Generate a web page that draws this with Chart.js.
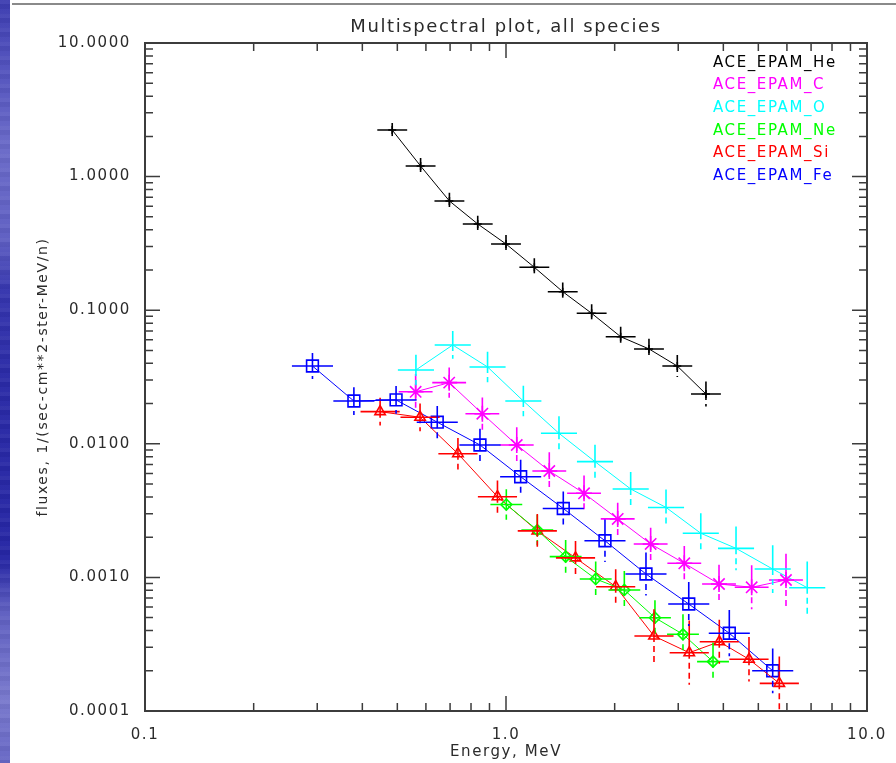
<!DOCTYPE html>
<html>
<head>
<meta charset="utf-8">
<script src="https://cdn.jsdelivr.net/npm/chart.js@4.4.1/dist/chart.umd.min.js"></script>
<style>
  html, body { margin: 0; padding: 0; background: #fff; }
  #wrap { position: relative; width: 896px; height: 763px; overflow: hidden; background: #fff; }
  #stripe {
    position: absolute; left: 0; top: 0; width: 10px; height: 763px;
    background:
      repeating-linear-gradient(180deg, rgba(255,255,255,0.05) 0 4px, rgba(0,0,0,0.03) 4px 9px, rgba(255,255,255,0.02) 9px 14px),
      linear-gradient(180deg, #3c3cb0 0px, #5050bc 60px, #6a6ac8 150px, #5e5ec2 240px, #3636ae 290px, #2a2aa6 380px, #2626a4 560px, #5e5ec0 610px, #7878cc 700px, #6666c4 763px);
  }
  #rule { position: absolute; left: 12px; right: 0; top: 3px; height: 2px; background: #8a8a8a; }
  canvas { position: absolute; left: 0; top: 0; }
</style>
</head>
<body>
<div id="wrap">
  <div id="stripe"></div>
  <div id="rule"></div>
  <canvas id="chart" width="896" height="763"></canvas>
</div>
<script>
// Species names, in legend order
const speciesLabels = ['ACE_EPAM_He', 'ACE_EPAM_C', 'ACE_EPAM_O', 'ACE_EPAM_Ne', 'ACE_EPAM_Si', 'ACE_EPAM_Fe'];

// Energy (MeV/n), flux and relative flux error for each species
const heEnergy = [0.484, 0.580, 0.697, 0.835, 1.00, 1.198, 1.436, 1.727, 2.078, 2.489, 2.982, 3.58];
const heFlux   = [2.23, 1.20, 0.657, 0.442, 0.313, 0.2095, 0.1376, 0.0948, 0.0633, 0.0513, 0.0382, 0.0236];
const heErr    = [0.13, 0.15, 0.15, 0.15, 0.17, 0.17, 0.17, 0.17, 0.19, 0.19, 0.21, 0.24];

const cEnergy = [0.562, 0.696, 0.860, 1.071, 1.318, 1.645, 2.039, 2.516, 3.118, 3.891, 4.792, 5.965];
const cFlux   = [0.0245, 0.0287, 0.0168, 0.0098, 0.00626, 0.00426, 0.00274, 0.00178, 0.001275, 0.000893, 0.000843, 0.000956];
const cErr    = [0.36, 0.30, 0.32, 0.36, 0.38, 0.36, 0.32, 0.32, 0.35, 0.39, 0.46, 0.57];

const oEnergy = [0.563, 0.712, 0.889, 1.117, 1.402, 1.764, 2.215, 2.775, 3.464, 4.337, 5.48, 6.83];
const oFlux   = [0.0357, 0.0549, 0.0376, 0.0209, 0.01198, 0.00735, 0.00459, 0.00334, 0.00214, 0.00165, 0.001155, 0.000837];
const oErr    = [0.30, 0.27, 0.30, 0.30, 0.34, 0.34, 0.34, 0.36, 0.41, 0.46, 0.51, 0.57];

const neEnergy = [1.002, 1.221, 1.463, 1.772, 2.127, 2.586, 3.092, 3.745];
const neFlux   = [0.00351, 0.00226, 0.00143, 0.000973, 0.000805, 0.000499, 0.000375, 0.000234];
const neErr    = [0.30, 0.30, 0.33, 0.35, 0.39, 0.35, 0.41, 0.39];

const siEnergy = [0.448, 0.578, 0.736, 0.947, 1.221, 1.558, 2.013, 2.570, 3.218, 3.898, 4.711, 5.716];
const siFlux   = [0.0174, 0.0158, 0.00843, 0.00402, 0.00223, 0.00140, 0.000852, 0.000364, 0.000273, 0.00033, 0.000244, 0.000161];
const siErr    = [0.27, 0.27, 0.31, 0.32, 0.34, 0.34, 0.35, 0.59, 0.74, 0.46, 0.47, 0.59];

const feEnergy = [0.291, 0.379, 0.496, 0.645, 0.847, 1.098, 1.441, 1.880, 2.442, 3.208, 4.155, 5.48];
const feFlux   = [0.0382, 0.0209, 0.0213, 0.01451, 0.0098, 0.00567, 0.00328, 0.00188, 0.00106, 0.000632, 0.000382, 0.000200];
const feErr    = [0.25, 0.27, 0.27, 0.32, 0.32, 0.34, 0.34, 0.44, 0.45, 0.46, 0.49, 0.47];

// Energy channel half-width, as a ratio to the channel centre (He, C, O, Ne, Si, Fe)
const binHalfWidth = [1.10, 1.114, 1.122, 1.107, 1.133, 1.14];

// Axis tick values and their labels
const xTickValues = [0.1, 1, 10];
const xTickLabels = ['0.1', '1.0', '10.0'];
const yTickValues = [0.0001, 0.001, 0.01, 0.1, 1, 10];
const yTickLabels = ['0.0001', '0.0010', '0.0100', '0.1000', '1.0000', '10.0000'];

// Plot styles per species
const seriesColors = ['#000000', '#ff00ff', '#00ffff', '#00ff00', '#ff0000', '#0000ff'];
const seriesSymbols = ['cross', 'star', 'circle', 'rectRot', 'triangle', 'rect'];
const symbolSizes = [4, 8, 0, 5.5, 6, 8.3];

const energies = [heEnergy, cEnergy, oEnergy, neEnergy, siEnergy, feEnergy];
const fluxes = [heFlux, cFlux, oFlux, neFlux, siFlux, feFlux];
const errors = [heErr, cErr, oErr, neErr, siErr, feErr];

const TEXT = '#2b2b2b';
const AXIS = '#3c3c3c';
const SPACING = '1.6px';
Chart.defaults.font.family = '"DejaVu Sans", sans-serif';
Chart.defaults.color = TEXT;

const datasets = speciesLabels.map((label, i) => ({
  label,
  data: energies[i].map((e, k) => ({ x: e, y: fluxes[i][k], err: errors[i][k] })),
  binHalf: binHalfWidth[i],
  borderColor: seriesColors[i],
  backgroundColor: 'rgba(0,0,0,0)',
  borderWidth: 1,
  pointStyle: seriesSymbols[i],
  pointRadius: symbolSizes[i],
  pointHoverRadius: symbolSizes[i],
  pointBorderWidth: 1.6,
  pointBorderColor: seriesColors[i],
  pointBackgroundColor: 'rgba(0,0,0,0)',
  tension: 0
}));

// Canvas letter spacing, to widen the plain stroke lettering
const spacing = {
  id: 'spacing',
  beforeLayout(chart) { chart.ctx.letterSpacing = SPACING; },
  beforeDraw(chart) { chart.ctx.letterSpacing = SPACING; }
};

// Horizontal bars span the energy channel; vertical bars show the flux error,
// solid above the point and dashed below it
const errorBars = {
  id: 'errorBars',
  afterDatasetsDraw(chart) {
    const { ctx, chartArea: a, scales: { x, y } } = chart;
    ctx.save();
    ctx.beginPath();
    ctx.rect(a.left, a.top, a.width, a.height);
    ctx.clip();
    ctx.lineWidth = 1.6;
    chart.data.datasets.forEach(ds => {
      ctx.strokeStyle = ds.borderColor;
      ds.data.forEach(p => {
        const px = x.getPixelForValue(p.x);
        const py = y.getPixelForValue(p.y);
        const xl = x.getPixelForValue(p.x / ds.binHalf);
        const xr = x.getPixelForValue(p.x * ds.binHalf);
        const yt = y.getPixelForValue(p.y * (1 + p.err));
        const yb = y.getPixelForValue(p.y / (1 + p.err));
        ctx.setLineDash([]);
        ctx.beginPath();
        ctx.moveTo(xl, py); ctx.lineTo(xr, py);
        ctx.moveTo(px, py); ctx.lineTo(px, yt);
        ctx.stroke();
        ctx.setLineDash([6, 4]);
        ctx.beginPath();
        ctx.moveTo(px, py); ctx.lineTo(px, yb);
        ctx.stroke();
      });
    });
    ctx.restore();
  }
};

// Axis box with inward major and minor log ticks on all four sides
const frame = {
  id: 'frame',
  afterDraw(chart) {
    const { ctx, chartArea: a, scales: { x, y } } = chart;
    ctx.save();
    ctx.letterSpacing = '0px';
    ctx.strokeStyle = AXIS;
    ctx.lineWidth = 1.5;
    ctx.beginPath();
    const marks = (scale, fn) => {
      const lo = Math.floor(Math.log10(scale.min));
      const hi = Math.ceil(Math.log10(scale.max));
      for (let d = lo; d <= hi; d++) {
        for (let m = 1; m <= 9; m++) {
          const v = m * Math.pow(10, d);
          if (v < scale.min * 0.999 || v > scale.max * 1.001) continue;
          fn(scale.getPixelForValue(v), m === 1 ? 15 : 8);
        }
      }
    };
    marks(x, (p, len) => {
      ctx.moveTo(p, a.bottom); ctx.lineTo(p, a.bottom - len);
      ctx.moveTo(p, a.top); ctx.lineTo(p, a.top + len);
    });
    marks(y, (p, len) => {
      ctx.moveTo(a.left, p); ctx.lineTo(a.left + len, p);
      ctx.moveTo(a.right, p); ctx.lineTo(a.right - len, p);
    });
    ctx.stroke();
    ctx.lineWidth = 2;
    ctx.strokeRect(a.left, a.top, a.right - a.left, a.bottom - a.top);
    ctx.restore();
  }
};

// Species key in the upper right of the plot, each name in its series colour
const speciesKey = {
  id: 'speciesKey',
  afterDraw(chart) {
    const { ctx, chartArea: a } = chart;
    ctx.save();
    ctx.letterSpacing = SPACING;
    ctx.font = '15px "DejaVu Sans", sans-serif';
    ctx.textAlign = 'left';
    ctx.textBaseline = 'middle';
    chart.data.datasets.forEach((ds, i) => {
      ctx.fillStyle = ds.borderColor;
      ctx.fillText(ds.label, a.right - 154, a.top + 20 + i * 22.6);
    });
    ctx.restore();
  }
};

new Chart(document.getElementById('chart'), {
  type: 'line',
  data: { datasets },
  options: {
    responsive: false,
    animation: false,
    events: [],
    layout: { padding: { left: 0, right: 29, top: 0, bottom: 0 } },
    plugins: {
      legend: { display: false },
      tooltip: { enabled: false },
      title: {
        display: true,
        text: 'Multispectral plot, all species',
        fullSize: false,
        color: TEXT,
        font: { size: 18, weight: 'normal' },
        padding: { top: 17, bottom: 4.4 }
      }
    },
    scales: {
      x: {
        type: 'logarithmic',
        min: 0.1,
        max: 10,
        grid: { display: false },
        border: { display: false },
        afterBuildTicks: s => { s.ticks = xTickValues.map(v => ({ value: v })); },
        afterFit: s => { s.height = 52; },
        ticks: {
          autoSkip: false,
          maxRotation: 0,
          padding: 7,
          color: TEXT,
          font: { size: 15 },
          callback: (v, i) => xTickLabels[i]
        },
        title: {
          display: true,
          text: 'Energy, MeV',
          color: TEXT,
          font: { size: 15 },
          padding: { top: 0, bottom: 2 }
        }
      },
      y: {
        type: 'logarithmic',
        min: 0.0001,
        max: 10,
        grid: { display: false },
        border: { display: false },
        afterBuildTicks: s => { s.ticks = yTickValues.map(v => ({ value: v })); },
        afterFit: s => { s.width = 145; },
        ticks: {
          autoSkip: false,
          padding: 6,
          color: TEXT,
          font: { size: 15 },
          callback: (v, i) => yTickLabels[i]
        },
        title: {
          display: true,
          text: 'fluxes, 1/(sec-cm**2-ster-MeV/n)',
          color: TEXT,
          font: { size: 14 },
          padding: { top: 34.6, bottom: 0 }
        }
      }
    }
  },
  plugins: [spacing, errorBars, frame, speciesKey]
});
</script>
</body>
</html>
